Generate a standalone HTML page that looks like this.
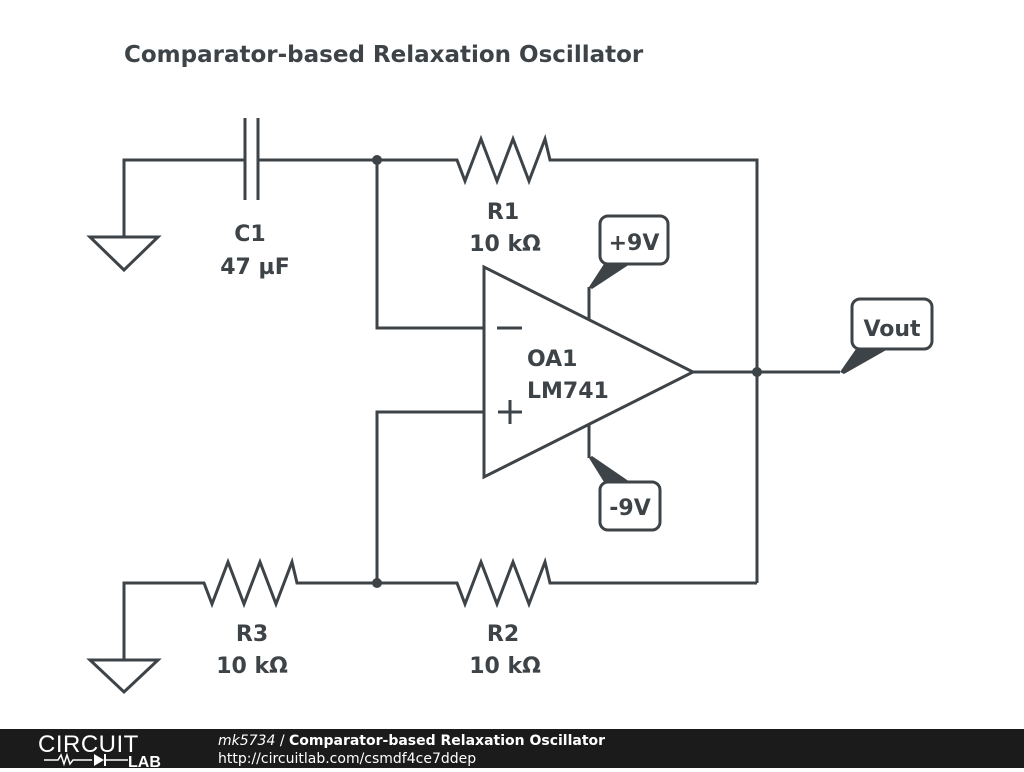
<!DOCTYPE html>
<html><head><meta charset="utf-8"><style>
body{margin:0;width:1024px;height:768px;background:#fff;overflow:hidden;font-family:"DejaVu Sans",sans-serif}
</style></head><body>
<svg width="1024" height="768" viewBox="0 0 1024 768" xmlns="http://www.w3.org/2000/svg" font-family="DejaVu Sans, sans-serif">
<rect width="1024" height="768" fill="#fff"/>
<text x="124" y="62" font-size="23" font-weight="bold" fill="#3d4347">Comparator-based Relaxation Oscillator</text>
<g stroke="#3d4347" stroke-width="3" fill="none" stroke-linejoin="miter">
<polyline points="124,237 124,160 245,160"/>
<line x1="245" y1="118" x2="245" y2="200"/>
<line x1="258" y1="118" x2="258" y2="200"/>
<polyline points="258,160 457,160 465,181 481,139 497,181 513,139 529,181 545,139 550,160 757,160 757,583"/>
<polyline points="377,160 377,328 484,328"/>
<polygon points="484,267 484,477 693,372"/>
<polyline points="693,372 840,372"/>
<polyline points="484,412 377,412 377,583"/>
<polyline points="124,660 124,583 204,583 212,604 228,562 244,604 260,562 276,604 292,562 297,583 457,583 465,604 481,562 497,604 513,562 529,604 545,562 550,583 757,583"/>
<polygon points="90,237 158,237 124,270"/>
<polygon points="90,660 158,660 124,692"/>
<line x1="497" y1="328" x2="522" y2="328"/>
<line x1="498" y1="412" x2="522" y2="412"/>
<line x1="510" y1="400" x2="510" y2="424"/>
<polyline points="589,320 589,287"/>
<polyline points="589,424 589,458"/>
<rect x="600" y="216" width="68" height="48" rx="8" fill="#fff"/>
<rect x="600" y="482" width="60" height="48" rx="8" fill="#fff"/>
<rect x="852" y="299" width="80" height="50" rx="8" fill="#fff"/>
</g>
<g fill="#3d4347">
<polygon points="589,287 604,264 630,264 592,289"/>
<polygon points="589,458 604,482 630,482 592,456"/>
<polygon points="840,372 856,349 888,349 844,374"/>
<circle cx="377" cy="160" r="5"/>
<circle cx="757" cy="372" r="5"/>
<circle cx="377" cy="583" r="5"/>
</g>
<g font-size="22" font-weight="bold" fill="#3d4347" text-anchor="middle">
<text x="250" y="241">C1</text>
<text x="255" y="274">47 µF</text>
<text x="503" y="219">R1</text>
<text x="505" y="251">10 kΩ</text>
<text x="252" y="641">R3</text>
<text x="252" y="673">10 kΩ</text>
<text x="503" y="641">R2</text>
<text x="505" y="673">10 kΩ</text>
<text x="634" y="250">+9V</text>
<text x="630" y="515">-9V</text>
<text x="892" y="336">Vout</text>
</g>
<g font-size="22" font-weight="bold" fill="#3d4347">
<text x="527" y="366">OA1</text>
<text x="527" y="398">LM741</text>
</g>
<rect x="0" y="729" width="1024" height="39" fill="#1b1b1b"/>
<text x="38" y="752" font-size="24" fill="#fff" font-family="Liberation Sans, sans-serif" letter-spacing="0.5">CIRCUIT</text>
<polyline points="44,760 58,760 61,755 64,764 67,755 70,764 73,760 92,760" stroke="#fff" stroke-width="1.5" fill="none"/>
<polygon points="94,754 94,766 104,760" fill="#fff"/>
<line x1="105" y1="754" x2="105" y2="766" stroke="#fff" stroke-width="2"/>
<line x1="105" y1="760" x2="128" y2="760" stroke="#fff" stroke-width="1.5"/>
<text x="128" y="767" font-size="16" font-weight="bold" fill="#fff" font-family="Liberation Sans, sans-serif">LAB</text>
<text x="218" y="745" font-size="14" fill="#fff"><tspan font-style="italic">mk5734</tspan> / <tspan font-weight="bold">Comparator-based Relaxation Oscillator</tspan></text>
<text x="218" y="763" font-size="14" fill="#fff">http://circuitlab.com/csmdf4ce7ddep</text>
</svg>
</body></html>
